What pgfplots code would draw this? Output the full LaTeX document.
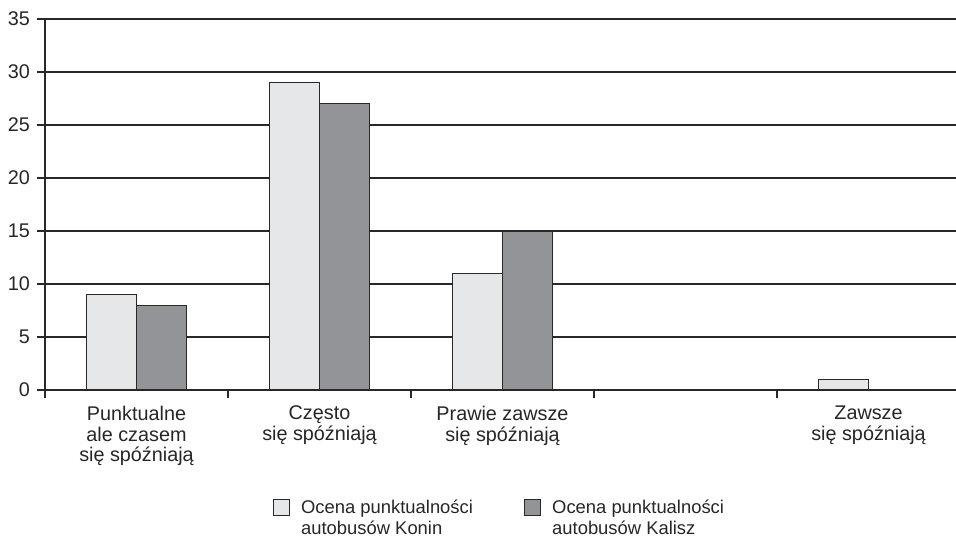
\documentclass[border=0pt]{standalone}
\usepackage{pgfplots}
\pgfplotsset{compat=1.18}
\usepackage{fontspec}
\setmainfont{Liberation Sans}

\definecolor{konin}{RGB}{230,231,233}
\definecolor{kalisz}{RGB}{147,148,152}
\definecolor{edge}{RGB}{40,40,40}

\pgfplotsset{
  sqlegend/.style={legend image code/.code={%
    \draw[##1, line width=0.6pt] (0pt,-0.7pt) rectangle (8pt,7.3pt);}},
}

\begin{document}
\begin{tikzpicture}
\begin{axis}[
  name=ax,
  scale only axis,
  width=455.5pt, height=185.5pt,
  xmin=-0.5, xmax=4.478,
  ymin=0, ymax=35,
  axis lines=left,
  axis line style={-, edge, line width=0.6pt},
  ytick={0,5,...,35},
  ymajorgrids,
  grid style={edge, line width=0.6pt},
  xtick={-0.5,0.5,1.5,2.5,3.5},
  xticklabels={},
  extra x ticks={0,1,2,3,4},
  extra x tick labels={{Punktualne\\ale czasem\\się spóźniają},{Często\\się spóźniają},{Prawie zawsze\\się spóźniają},{},{Zawsze\\się spóźniają}},
  extra x tick style={major tick length=0pt, grid=none},
  tick align=outside,
  major tick length=4pt,
  tick style={edge, line width=0.6pt},
  /pgf/number format/assume math mode=true,
  ticklabel style={font=\fontsize{9.9}{10.3}\selectfont, text=black!85},
  xticklabel style={align=center, yshift=-4.5pt},
  legend style={at={(0.5,-0.283)}, anchor=north, draw=none, fill=none,
    inner sep=0pt, font=\fontsize{9.2}{10.4}\selectfont, text=black!85,
    cells={anchor=base west},
    /tikz/every odd column/.append style={column sep=3.5pt},
    /tikz/every even column/.append style={column sep=23.5pt}},
  legend columns=2,
]
\addplot[ybar, bar width=0.273, bar shift=-0.1366, fill=konin, draw=edge,
  line width=0.6pt, sqlegend]
  coordinates {(0,9) (1,29) (2,11) (3,0) (4,1)};
\addlegendentry{\begin{tabular}[t]{@{}l@{}}Ocena punktualności\\autobusów Konin\end{tabular}}
\addplot[ybar, bar width=0.273, bar shift=0.1366, fill=kalisz, draw=edge,
  line width=0.6pt, sqlegend]
  coordinates {(0,8) (1,27) (2,15) (3,0) (4,0)};
\addlegendentry{\begin{tabular}[t]{@{}l@{}}Ocena punktualności\\autobusów Kalisz\end{tabular}}
\end{axis}
\pgfresetboundingbox
\path[use as bounding box] ([xshift=-22.5pt, yshift=-74pt]ax.south west)
  rectangle ([yshift=9.5pt]ax.north east);
\end{tikzpicture}
\end{document}
